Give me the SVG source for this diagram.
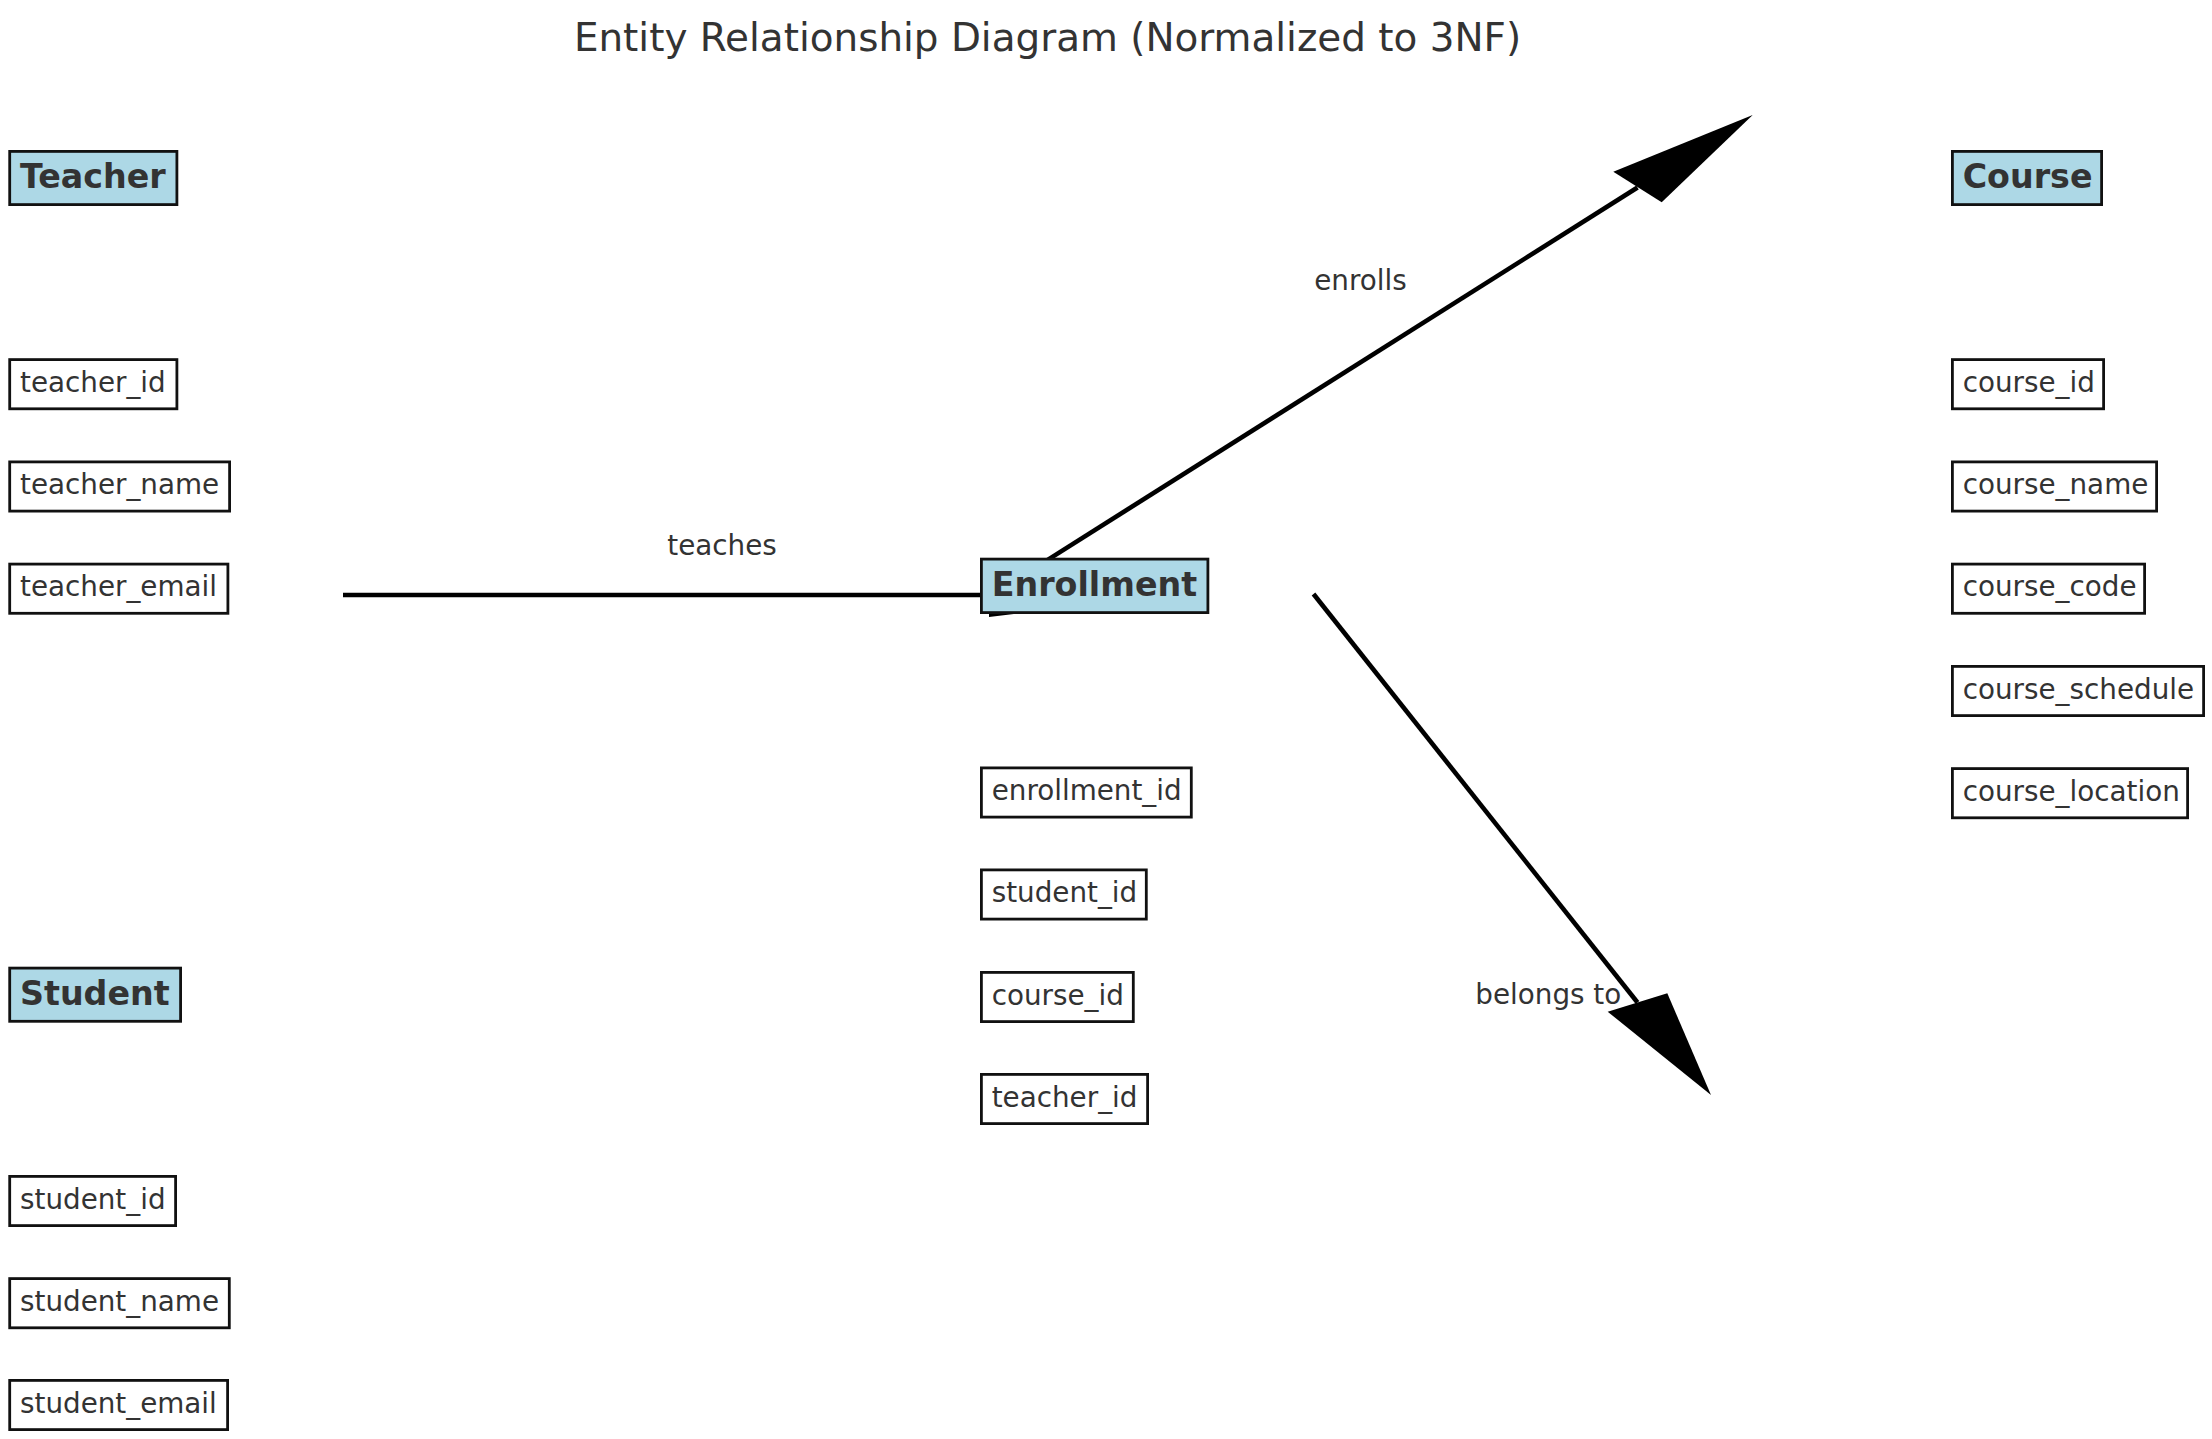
<svg xmlns="http://www.w3.org/2000/svg" width="2212" height="1439" viewBox="0 0 2212 1439">
<style>
text{font-family:"DejaVu Sans","Liberation Sans",sans-serif;fill:#333333}
.title{font-size:38.9px}
.ent rect{fill:#ADD8E6;stroke:#111;stroke-width:2.8}
.ent text{font-size:33.3px;font-weight:bold}
.attr rect{fill:#fff;stroke:#111;stroke-width:2.8}
.attr text{font-size:27.8px}
.lbl{font-size:27.8px;text-anchor:middle}
.conn line{stroke:#000;stroke-width:4.6}
.conn polygon{fill:#000;stroke:none}
</style>
<rect width="2212" height="1439" fill="#fff"/>
<text class="title" x="1047.5" y="51" text-anchor="middle">Entity Relationship Diagram (Normalized to 3NF)</text>

<g id="connectors" class="conn">
  <line x1="343" y1="595" x2="990" y2="595"/>
  <polygon points="989,573 1165,595 989,617"/>
  <line x1="992" y1="595" x2="1637.5" y2="187.5"/>
  <polygon points="1613.3,171.7 1752.7,115 1661.7,202.3"/>
  <line x1="1313.5" y1="594" x2="1637.5" y2="1002.5"/>
  <polygon points="1607.7,1011.7 1711,1095 1667.3,993.3"/>
  <text class="lbl" x="722" y="555">teaches</text>
  <text class="lbl" x="1360.5" y="289.5">enrolls</text>
  <text class="lbl" x="1548.3" y="1003.5">belongs to</text>
</g>

<g id="teacher" class="ent"><rect x="9.7" y="151.4" width="167.2" height="53.2"/><text x="20" y="188.3">Teacher</text></g>
<g id="teacher_id" class="attr"><rect x="9.7" y="359.6" width="167.2" height="49.2"/><text x="20" y="391.7">teacher_id</text></g>
<g id="teacher_name" class="attr"><rect x="9.7" y="461.9" width="219.9" height="49.2"/><text x="20" y="494">teacher_name</text></g>
<g id="teacher_email" class="attr"><rect x="9.7" y="564.1" width="218.2" height="49.2"/><text x="20" y="596.2">teacher_email</text></g>

<g id="student" class="ent"><rect x="9.7" y="968.1" width="170.9" height="53.2"/><text x="20" y="1005">Student</text></g>
<g id="student_id" class="attr"><rect x="9.7" y="1176.4" width="165.9" height="49.2"/><text x="20" y="1208.5">student_id</text></g>
<g id="student_name" class="attr"><rect x="9.7" y="1278.6" width="219.6" height="49.2"/><text x="20" y="1310.7">student_name</text></g>
<g id="student_email" class="attr"><rect x="9.7" y="1380.4" width="217.9" height="49.2"/><text x="20" y="1412.5">student_email</text></g>

<g id="enrollment" class="ent"><rect x="981.4" y="559.1" width="226.5" height="53.5"/><text x="991.7" y="596.1">Enrollment</text></g>
<g id="enrollment_id" class="attr"><rect x="981.4" y="767.9" width="209.9" height="49.2"/><text x="991.7" y="800">enrollment_id</text></g>
<g id="e_student_id" class="attr"><rect x="981.4" y="869.9" width="164.9" height="49.2"/><text x="991.7" y="902">student_id</text></g>
<g id="e_course_id" class="attr"><rect x="981.4" y="972.4" width="151.9" height="49.2"/><text x="991.7" y="1004.5">course_id</text></g>
<g id="e_teacher_id" class="attr"><rect x="981.4" y="1074.4" width="166.2" height="49.2"/><text x="991.7" y="1106.5">teacher_id</text></g>

<g id="course" class="ent"><rect x="1952.4" y="151.4" width="149.2" height="53.2"/><text x="1962.7" y="188.3">Course</text></g>
<g id="course_id" class="attr"><rect x="1952.4" y="359.6" width="151.2" height="49.2"/><text x="1962.7" y="391.7">course_id</text></g>
<g id="course_name" class="attr"><rect x="1952.4" y="461.9" width="204.2" height="49.2"/><text x="1962.7" y="494">course_name</text></g>
<g id="course_code" class="attr"><rect x="1952.4" y="564.1" width="192.2" height="49.2"/><text x="1962.7" y="596.2">course_code</text></g>
<g id="course_schedule" class="attr"><rect x="1952.4" y="666.4" width="251.2" height="49.2"/><text x="1962.7" y="698.5">course_schedule</text></g>
<g id="course_location" class="attr"><rect x="1952.4" y="768.6" width="235.2" height="49.2"/><text x="1962.7" y="800.7">course_location</text></g>
</svg>
